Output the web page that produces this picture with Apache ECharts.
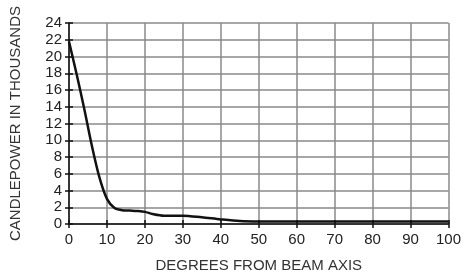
<!DOCTYPE html>
<html>
<head>
<meta charset="utf-8">
<script src="https://cdn.jsdelivr.net/npm/echarts@6/dist/echarts.min.js"></script>
<style>
  html, body { margin: 0; padding: 0; background: #fff; }
  #chart { width: 464px; height: 278px; }
</style>
</head>
<body>
<div id="chart"></div>
<script>
// degrees from beam axis and candlepower (thousands)
const degrees = [0, 2, 4, 6, 8, 10, 12, 14, 16, 18, 20, 22, 25, 30, 35, 40, 45, 50, 60, 70, 80, 90, 100]
const candlepower = [21.8, 17.9, 13.8, 9.4, 5.6, 3.0, 1.9, 1.65, 1.6, 1.55, 1.45, 1.2, 1.0, 1.0, 0.8, 0.55, 0.35, 0.3, 0.3, 0.3, 0.3, 0.3, 0.3]
const xTicks = [0, 10, 20, 30, 40, 50, 60, 70, 80, 90, 100]
const yTicks = [0, 2, 4, 6, 8, 10, 12, 14, 16, 18, 20, 22, 24]

const font = 'Liberation Sans, Arial, sans-serif'
const chart = echarts.init(document.getElementById('chart'))

const xBase = {
  type: 'value', min: xTicks[0], max: xTicks[xTicks.length - 1], interval: 10
}
const yBase = {
  type: 'value', min: yTicks[0], max: yTicks[yTicks.length - 1], interval: 2
}

chart.setOption({
  animation: false,
  grid: { left: 69, right: 10, top: 23, bottom: 51 },
  xAxis: [
    Object.assign({}, xBase, {
      name: 'DEGREES FROM BEAM AXIS',
      nameLocation: 'middle',
      nameGap: 34,
      nameTextStyle: { color: '#333', fontSize: 15, fontFamily: font },
      axisLine: { show: true, lineStyle: { color: '#111', width: 1.5 } },
      axisTick: { show: true, length: 4, lineStyle: { color: '#111', width: 1.5 } },
      axisLabel: { color: '#222', fontSize: 15, fontFamily: font, margin: 8 },
      splitLine: { show: true, lineStyle: { color: '#8a8a8a', width: 1.5 } }
    }),
    Object.assign({}, xBase, {
      position: 'bottom',
      axisLine: { show: false },
      axisTick: { show: true, inside: true, length: 4, lineStyle: { color: '#111', width: 1.5 } },
      axisLabel: { show: false },
      splitLine: { show: false }
    })
  ],
  yAxis: [
    Object.assign({}, yBase, {
      name: 'CANDLEPOWER IN THOUSANDS',
      nameLocation: 'middle',
      nameGap: 46,
      nameTextStyle: { color: '#333', fontSize: 15, fontFamily: font },
      axisLine: { show: true, lineStyle: { color: '#111', width: 1.5 } },
      axisTick: { show: true, length: 4, lineStyle: { color: '#111', width: 1.5 } },
      axisLabel: { color: '#222', fontSize: 15, fontFamily: font, margin: 7 },
      splitLine: { show: true, lineStyle: { color: '#8a8a8a', width: 1.5 } }
    }),
    Object.assign({}, yBase, {
      position: 'left',
      axisLine: { show: false },
      axisTick: { show: true, inside: true, length: 4, lineStyle: { color: '#111', width: 1.5 } },
      axisLabel: { show: false },
      splitLine: { show: false }
    })
  ],
  series: [{
    type: 'line',
    data: degrees.map((d, i) => [d, candlepower[i]]),
    smooth: 0.3,
    showSymbol: false,
    lineStyle: { color: '#111', width: 2.5 }
  }]
})
</script>
</body>
</html>
